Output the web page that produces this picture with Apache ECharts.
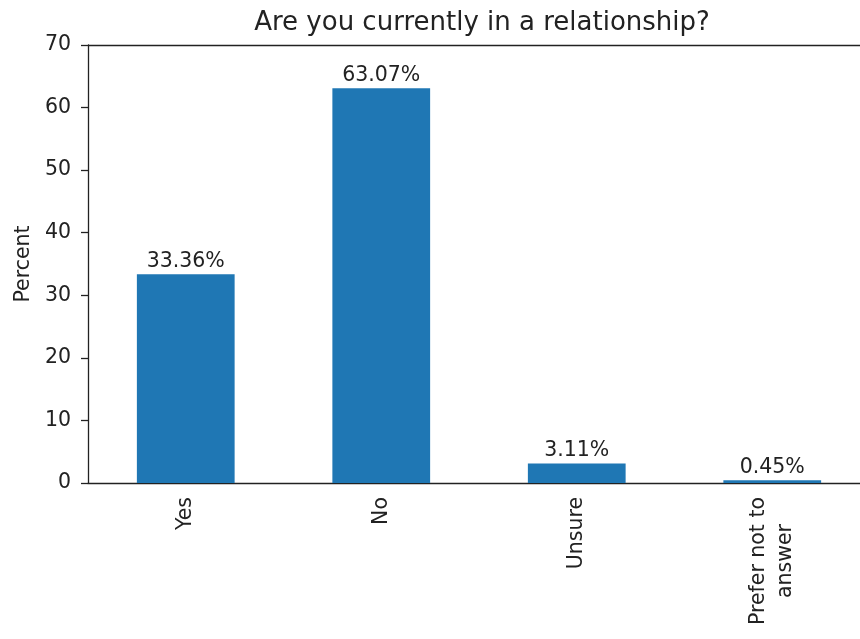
<!DOCTYPE html>
<html><head><meta charset="utf-8">
<script src="https://cdn.jsdelivr.net/npm/echarts@6/dist/echarts.min.js"></script>
<style>html,body{margin:0;padding:0;background:#fff;overflow:hidden;width:860px;height:639px}#c{width:880px;height:639px}</style>
</head><body><div id="c"></div>
<script>
const categories = ['Yes', 'No', 'Unsure', 'Prefer not to\nanswer'];
const values = [33.36, 63.07, 3.11, 0.45];
const yTicks = [0, 10, 20, 30, 40, 50, 60, 70];
const title = 'Are you currently in a relationship?';
const yName = 'Percent';

const F = 'DejaVu Sans';
const FS = 20.5;
const chart = echarts.init(document.getElementById('c'));
chart.setOption({
  animation: false,
  title: { text: title, left: 477, top: 5, textAlign: 'center',
    textStyle: { fontFamily: F, fontSize: 26, fontWeight: 'normal', color: '#222' } },
  grid: { left: 88, top: 45, width: 782, height: 438 },
  xAxis: {
    type: 'category', data: categories,
    axisLine: { lineStyle: { color: '#222', width: 1.3 } },
    axisTick: { alignWithLabel: true, length: 7, lineStyle: { color: '#222', width: 1.3 } },
    axisLabel: { rotate: 90, margin: 14, fontFamily: F, fontSize: FS, color: '#222',
      formatter: v => v.split('\n').map(s => '{c|' + s + '}').join('\n'),
      rich: { c: { align: 'center', fontFamily: F, fontSize: FS, color: '#222', lineHeight: 27 } } },
    splitLine: { show: false }
  },
  yAxis: {
    type: 'value', min: 0, max: 70, interval: 10,
    name: yName, nameLocation: 'middle', nameGap: 54,
    nameTextStyle: { fontFamily: F, fontSize: FS, color: '#222' },
    axisLine: { show: true, lineStyle: { color: '#222', width: 1.3 } },
    axisTick: { show: true, length: 7, lineStyle: { color: '#222', width: 1.3 } },
    axisLabel: { margin: 17, fontFamily: F, fontSize: FS, color: '#222',
      formatter: v => yTicks.includes(v) ? String(v) : '' },
    splitLine: { show: false }
  },
  series: [{
    type: 'bar', data: values, barWidth: '50%',
    itemStyle: { color: '#1f77b4' },
    label: { show: true, position: 'top', distance: 2, fontFamily: F, fontSize: FS, color: '#222',
      formatter: p => p.value.toFixed(2) + '%' }
  }, {
    type: 'line', data: [], markLine: { silent: true, symbol: 'none', label: { show: false },
      lineStyle: { color: '#222', width: 1.3, type: 'solid' }, data: [{ yAxis: 70 }] }
  }]
});
</script></body></html>
